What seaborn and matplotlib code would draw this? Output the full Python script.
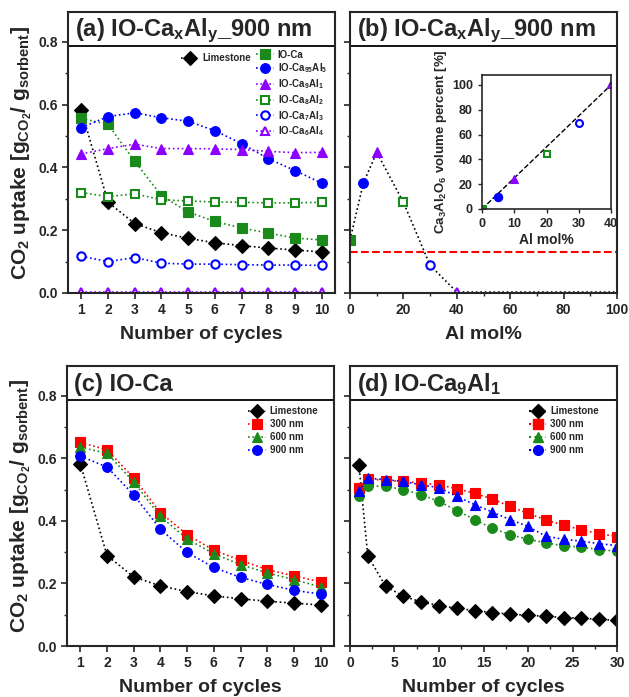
import numpy as np
import matplotlib.pyplot as plt
import seaborn as sns
from matplotlib.lines import Line2D

sns.set_style("ticks")
plt.rcParams['font.family'] = ['Liberation Sans', 'DejaVu Sans']
plt.rcParams['font.weight'] = 'bold'
plt.rcParams['mathtext.fontset'] = 'custom'
plt.rcParams['mathtext.rm'] = 'Liberation Sans:bold'
plt.rcParams['mathtext.it'] = 'Liberation Sans:bold'
plt.rcParams['mathtext.bf'] = 'Liberation Sans:bold'
plt.rcParams['mathtext.default'] = 'rm'

# ---------------- data ----------------
cycles10 = [1, 2, 3, 4, 5, 6, 7, 8, 9, 10]
limestone10 = [0.582, 0.289, 0.221, 0.192, 0.174, 0.160, 0.151, 0.143, 0.137, 0.131]

# panel (a)
io_ca = [0.556, 0.537, 0.419, 0.310, 0.258, 0.228, 0.207, 0.191, 0.175, 0.169]
io_ca95al5 = [0.527, 0.562, 0.574, 0.558, 0.547, 0.517, 0.476, 0.428, 0.390, 0.350]
io_ca9al1 = [0.443, 0.460, 0.474, 0.460, 0.460, 0.459, 0.457, 0.451, 0.447, 0.448]
io_ca8al2 = [0.320, 0.307, 0.316, 0.297, 0.293, 0.290, 0.289, 0.287, 0.287, 0.289]
io_ca7al3 = [0.117, 0.100, 0.113, 0.095, 0.092, 0.092, 0.090, 0.089, 0.089, 0.088]
io_ca6al4 = [0.003, 0.003, 0.003, 0.003, 0.003, 0.003, 0.003, 0.003, 0.003, 0.003]

# panel (b)
al_mol = [0, 5, 10, 20, 30, 40, 100]
uptake_10th = [0.169, 0.350, 0.448, 0.289, 0.088, 0.003, 0.003]
limestone_ref = 0.131
inset_al = [0, 5, 10, 20, 30, 40]
inset_vol = [0, 10, 24, 44, 69, 100]

# panel (c)
c_300 = [0.651, 0.627, 0.537, 0.426, 0.356, 0.306, 0.274, 0.244, 0.224, 0.205]
c_600 = [0.635, 0.616, 0.524, 0.414, 0.342, 0.295, 0.260, 0.234, 0.212, 0.189]
c_900 = [0.607, 0.572, 0.483, 0.373, 0.299, 0.251, 0.219, 0.197, 0.178, 0.166]

# panel (d)
cycles30 = [1, 2, 4, 6, 8, 10, 12, 14, 16, 18, 20, 22, 24, 26, 28, 30]
limestone30 = [0.580, 0.288, 0.191, 0.159, 0.141, 0.129, 0.121, 0.113, 0.107,
               0.102, 0.098, 0.095, 0.091, 0.089, 0.085, 0.082]
d_300 = [0.504, 0.535, 0.529, 0.526, 0.521, 0.515, 0.503, 0.488, 0.470,
         0.446, 0.424, 0.403, 0.386, 0.372, 0.359, 0.350]
d_600 = [0.481, 0.512, 0.510, 0.500, 0.484, 0.462, 0.433, 0.404, 0.376,
         0.356, 0.341, 0.330, 0.320, 0.316, 0.308, 0.303]
d_900 = [0.497, 0.536, 0.532, 0.526, 0.515, 0.506, 0.478, 0.452, 0.428,
         0.404, 0.382, 0.351, 0.341, 0.335, 0.327, 0.321]

GREEN = '#1a8a1a'
BLUE = '#0000ff'
PURPLE = '#8b00ff'
RED = '#ff0000'

ylabel = r"CO$_2$ uptake [g$_{CO_2}$/ g$_{sorbent}$]"
YTOP = 0.895
HEAD = 0.787


def series(ax, x, y, color, marker, filled=True, label=None, ms=7):
    sns.lineplot(x=x, y=y, ax=ax, color=color, linestyle=':', linewidth=1.2,
                 marker=marker, markersize=ms,
                 markerfacecolor=color if filled else 'white',
                 markeredgecolor=color, markeredgewidth=1.5 if not filled else 0.8,
                 label=label, legend=False, sort=False)


def style_axes(ax, title, show_ylabels):
    ax.set_ylim(0, YTOP)
    ax.axhline(HEAD, color='black', linewidth=1.3)
    ax.set_yticks([0, 0.2, 0.4, 0.6, 0.8])
    ax.set_yticks([0.1, 0.3, 0.5, 0.7], minor=True)
    ax.tick_params(axis='both', which='major', direction='out', length=4, width=1.2,
                   labelsize=10)
    ax.tick_params(axis='both', which='minor', direction='out', length=2.5, width=1)
    for s in ax.spines.values():
        s.set_linewidth(1.5)
        s.set_visible(True)
    if show_ylabels:
        ax.set_ylabel(ylabel, fontsize=15, fontweight='bold', labelpad=3)
    else:
        ax.set_yticklabels([])
    ax.text(0.025, (HEAD + YTOP) / 2 - 0.005, title, transform=ax.get_yaxis_transform(),
            fontsize=17, fontweight='bold', va='center', ha='left')


fig = plt.figure(figsize=(6.29, 6.97), dpi=100)
W = 267 / 629
H_top = 281 / 697
axA = fig.add_axes([68 / 629, 1 - 293 / 697, W, H_top])
axB = fig.add_axes([350 / 629, 1 - 293 / 697, W, H_top])
axC = fig.add_axes([67 / 629, 1 - 646 / 697, W, 280 / 697])
axD = fig.add_axes([350 / 629, 1 - 646 / 697, W, 280 / 697])

# ---------------- (a) ----------------
series(axA, cycles10, limestone10, 'black', 'D', label='Limestone')
series(axA, cycles10, io_ca, GREEN, 's', label='IO-Ca')
series(axA, cycles10, io_ca95al5, BLUE, 'o', label=r'IO-Ca$_{95}$Al$_5$')
series(axA, cycles10, io_ca9al1, PURPLE, '^', label=r'IO-Ca$_9$Al$_1$')
series(axA, cycles10, io_ca8al2, GREEN, 's', filled=False, label=r'IO-Ca$_8$Al$_2$', ms=6)
series(axA, cycles10, io_ca7al3, BLUE, 'o', filled=False, label=r'IO-Ca$_7$Al$_3$', ms=6)
series(axA, cycles10, io_ca6al4, PURPLE, '^', filled=False, label=r'IO-Ca$_6$Al$_4$', ms=6)
axA.set_xlim(0.5, 10.5)
axA.set_xticks(cycles10)
axA.set_xlabel('Number of cycles', fontsize=14, fontweight='bold', labelpad=6)
style_axes(axA, r'(a) IO-Ca$_x$Al$_y$_900 nm', True)
h, l = axA.get_legend_handles_labels()
leg1 = axA.legend(h[:1], l[:1], loc='upper left', bbox_to_anchor=(0.39, 0.885),
                  frameon=False, fontsize=7, handlelength=1.8, handletextpad=0.4)
axA.add_artist(leg1)
axA.legend(h[1:], l[1:], loc='upper left', bbox_to_anchor=(0.69, 0.88),
           frameon=False, fontsize=7, handlelength=1.8, handletextpad=0.4,
           labelspacing=0.2, borderaxespad=0)

# ---------------- (b) ----------------
sns.lineplot(x=al_mol, y=uptake_10th, ax=axB, color='black', linestyle=':',
             linewidth=1.2, sort=False)
b_styles = [(GREEN, 's', True), (BLUE, 'o', True), (PURPLE, '^', True),
            (GREEN, 's', False), (BLUE, 'o', False), (PURPLE, '^', False)]
for xv, yv, (c, m, f) in zip(al_mol[:-1], uptake_10th[:-1], b_styles):
    series(axB, [xv], [yv], c, m, filled=f, ms=7 if f else 6)
axB.axhline(limestone_ref, color=RED, linestyle='--', linewidth=1.5)
axB.set_xlim(0, 100)
axB.set_xticks([0, 20, 40, 60, 80, 100])
axB.set_xticks([10, 30, 50, 70, 90], minor=True)
axB.set_xlabel('Al mol%', fontsize=14, fontweight='bold', labelpad=6)
style_axes(axB, r'(b) IO-Ca$_x$Al$_y$_900 nm', False)

# inset
axIn = fig.add_axes([482 / 629, 1 - 209 / 697, 129 / 629, 134 / 697])
sns.lineplot(x=[inset_al[0], inset_al[-1]], y=[inset_vol[0], inset_vol[-1]], ax=axIn,
             color='black', linestyle='--', linewidth=1)
for xv, yv, (c, m, f) in zip(inset_al, inset_vol, b_styles):
    series(axIn, [xv], [yv], c, m, filled=f, ms=6 if f else 5)
axIn.set_xlim(0, 40)
axIn.set_ylim(0, 108)
axIn.set_xticks([0, 10, 20, 30, 40])
axIn.set_yticks([0, 20, 40, 60, 80, 100])
axIn.tick_params(direction='out', length=3, width=1, labelsize=9)
for s in axIn.spines.values():
    s.set_linewidth(1.2)
axIn.set_xlabel('Al mol%', fontsize=10, fontweight='bold', labelpad=2)
axIn.set_ylabel(r'Ca$_3$Al$_2$O$_6$ volume percent [%]', fontsize=9.5,
                fontweight='bold', labelpad=2)

# ---------------- (c) ----------------
series(axC, cycles10, limestone10, 'black', 'D', label='Limestone')
series(axC, cycles10, c_300, RED, 's', label='300 nm')
series(axC, cycles10, c_600, GREEN, '^', label='600 nm')
series(axC, cycles10, c_900, BLUE, 'o', label='900 nm')
axC.set_xlim(0.5, 10.5)
axC.set_xticks(cycles10)
axC.set_xlabel('Number of cycles', fontsize=14, fontweight='bold', labelpad=6)
style_axes(axC, '(c) IO-Ca', True)
axC.legend(loc='upper left', bbox_to_anchor=(0.665, 0.87), frameon=False,
           fontsize=7, handlelength=1.8, handletextpad=0.4, labelspacing=0.3,
           borderaxespad=0)

# ---------------- (d) ----------------
series(axD, cycles30, limestone30, 'black', 'D')
series(axD, cycles30, d_300, RED, 's')
series(axD, cycles30, d_600, GREEN, 'o')
series(axD, cycles30, d_900, BLUE, '^')
axD.set_xlim(0, 30)
axD.set_xticks([0, 5, 10, 15, 20, 25, 30])
axD.set_xticks([2.5, 7.5, 12.5, 17.5, 22.5, 27.5], minor=True)
axD.set_xlabel('Number of cycles', fontsize=14, fontweight='bold', labelpad=6)
style_axes(axD, r'(d) IO-Ca$_9$Al$_1$', False)
d_handles = [Line2D([], [], color=c, linestyle=':', marker=m, markersize=7,
                    markerfacecolor=c, markeredgecolor=c)
             for c, m in [('black', 'D'), (RED, 's'), (GREEN, '^'), (BLUE, 'o')]]
axD.legend(d_handles, ['Limestone', '300 nm', '600 nm', '900 nm'], loc='upper left',
           bbox_to_anchor=(0.655, 0.87), frameon=False, fontsize=7, handlelength=1.8,
           handletextpad=0.4, labelspacing=0.3, borderaxespad=0)

fig.savefig('out.png', dpi=100)
